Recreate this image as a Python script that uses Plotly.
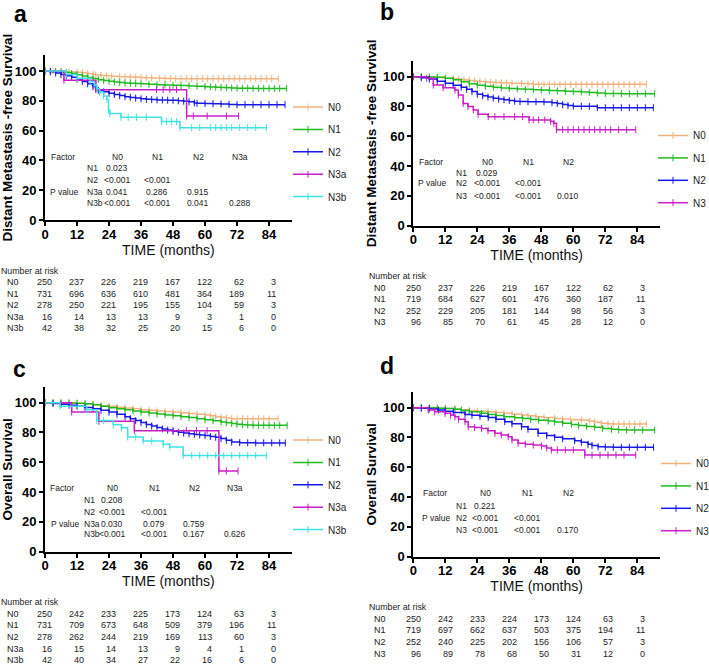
import plotly.graph_objects as go

# ---------------- data ----------------
time_ticks = [0, 12, 24, 36, 48, 60, 72, 84]
surv_ticks = [0, 20, 40, 60, 80, 100]

# Panel a - Distant metastasis-free survival (N0, N1, N2, N3a, N3b)
a_N0_t = [0, 3, 6, 9, 12, 14, 16, 18, 19, 21,
          23, 25, 28, 30, 32, 34, 36, 38, 40, 43,
          45, 47, 49, 51, 53, 55, 57, 59, 61, 63,
          65, 67, 69, 71, 73, 75, 77, 79, 81, 83,
          85, 87.5]
a_N0_s = [100, 100, 99.7, 99.4, 99.1, 98.9, 98.4, 97.8, 97.3, 97.0,
          96.8, 96.5, 96.2, 96.1, 96.0, 95.8, 95.6, 95.4, 95.3, 95.1,
          95.0, 94.9, 94.8, 94.8, 94.8, 94.8, 94.8, 94.8, 94.8, 94.8,
          94.8, 94.8, 94.8, 94.8, 94.8, 94.8, 94.8, 94.8, 94.8, 94.8,
          94.8, 94.8]
a_N1_t = [0, 2, 4, 6, 8, 10, 12, 14, 16, 18,
          20, 22, 24, 26, 28, 30, 32, 34, 36, 39,
          42, 45, 48, 51, 54, 57, 60, 62, 64, 66,
          68, 70, 72, 74, 76, 78, 80, 82, 84, 86,
          88, 90.6]
a_N1_s = [100, 99.9, 99.7, 99.4, 99.0, 98.4, 97.5, 96.6, 95.7, 94.9,
          94.2, 93.6, 93.1, 92.7, 92.3, 92.0, 91.8, 91.6, 91.4, 91.1,
          90.8, 90.6, 90.4, 90.2, 90.0, 89.8, 89.5, 89.3, 89.1, 88.9,
          88.8, 88.6, 88.5, 88.4, 88.4, 88.3, 88.3, 88.3, 88.3, 88.3,
          88.3, 88.3]
a_N2_t = [0, 2, 4, 6, 8, 10, 12, 14, 16, 18,
          19, 20, 22, 24, 26, 28, 30, 32, 34, 36,
          38, 40, 42, 44, 46, 48, 50, 52, 54, 56,
          57, 60, 63, 66, 69, 72, 75, 78, 81, 84,
          87, 90]
a_N2_s = [100, 99.5, 98.6, 97.6, 96.8, 95.8, 94.6, 93.0, 91.4, 89.5,
          88.0, 87.0, 86.0, 85.0, 84.2, 83.5, 82.8, 82.3, 81.8, 81.3,
          81.0, 80.8, 80.6, 80.5, 80.4, 80.3, 80.0, 79.7, 79.3, 78.6,
          78.3, 78.2, 78.1, 77.9, 77.6, 77.4, 77.4, 77.4, 77.4, 77.4,
          77.4, 77.4]
a_N3a_t = [0, 7.1, 19.1, 41.8, 44.3, 46.8, 49.3, 53.1, 55.6, 60.8, 68, 72.6]
a_N3a_s = [100, 93.75, 87.5, 87.5, 87.5, 87.5, 87.5, 69.8, 69.8, 69.8, 69.8, 69.8]
a_N3b_t = [0, 8, 12, 17, 18.5, 19.5, 20.5, 22, 23.2, 23.8,
           24.3, 28.5, 31.2, 34.3, 38, 43.7, 45.6, 47.4, 49.3, 50.6,
           55, 58, 62, 64, 66, 68, 70, 73, 76, 79,
           83]
a_N3b_s = [100, 97.6, 95.2, 92.9, 90.5, 88.1, 85.7, 83.3, 80.9, 73.8,
           71.4, 68.9, 68.9, 68.9, 68.9, 66.1, 66.1, 66.1, 66.1, 62.0,
           62.0, 62.0, 62.0, 62.0, 62.0, 62.0, 62.0, 62.0, 62.0, 62.0,
           62.0]

# Panel b - Distant metastasis-free survival (N0, N1, N2, N3)
b_N0_t = [0, 3, 6, 9, 12, 15, 17, 19, 21, 23,
          25, 27, 29, 31, 33, 35, 37, 40.6, 43, 45,
          47, 49, 51, 53, 55, 57, 59, 61, 63, 65,
          67, 69, 71, 73, 75, 77, 79, 81, 83, 85,
          87.4]
b_N0_s = [100, 100, 99.7, 99.4, 99.0, 98.6, 98.2, 97.8, 97.4, 97.1,
          96.8, 96.5, 96.3, 96.1, 95.9, 95.8, 95.6, 95.5, 95.2, 95.0,
          94.9, 94.9, 94.9, 94.9, 94.9, 94.9, 94.9, 94.9, 94.9, 94.9,
          94.9, 94.9, 94.9, 94.9, 94.9, 94.9, 94.9, 94.9, 94.9, 94.9,
          94.9]
b_N1_t = [0, 3, 6, 9, 12, 15, 18, 21, 24, 27,
          30, 33, 36, 39, 42, 45, 48, 51, 54, 57,
          60, 63, 66, 69, 72, 75, 78, 81, 84, 87,
          90.5]
b_N1_s = [100, 100, 99.8, 99.6, 98.9, 97.9, 96.6, 95.3, 94.3, 93.6,
          93.0, 92.5, 92.1, 91.8, 91.5, 91.2, 91.0, 90.7, 90.5, 90.2,
          90.0, 89.7, 89.4, 89.1, 88.8, 88.7, 88.6, 88.6, 88.6, 88.6,
          88.6]
b_N2_t = [0, 3, 6, 9, 12, 15, 18, 20, 22, 24,
          26, 28, 30, 32, 34, 36, 38, 40, 43, 46,
          49, 52, 54, 56, 58, 60, 63, 66, 69, 72,
          75, 78, 81, 84, 87, 90]
b_N2_s = [100, 99.3, 98.4, 96.9, 95.6, 94.2, 93.0, 91.5, 90.0, 88.2,
          87.2, 86.3, 85.6, 85.0, 84.5, 84.0, 83.6, 83.3, 83.2, 83.2,
          83.1, 82.6, 82.0, 81.3, 80.6, 80.2, 80.2, 80.1, 79.2, 79.2,
          79.2, 79.2, 79.2, 79.2, 79.2, 79.2]
b_N3_t = [0, 5, 7.5, 11.2, 15.6, 16.9, 18.7, 20.5, 22.5, 24.3,
          28.1, 30.6, 34, 38, 41, 43.4, 45, 47, 49.3, 51.5,
          52.7, 53.7, 56, 58, 60, 62, 64, 66, 68, 70,
          72, 74, 77, 80, 83.4]
b_N3_s = [100, 98.9, 94.4, 92.6, 91.1, 87.7, 82.1, 80.0, 77.7, 74.8,
          73.2, 73.2, 73.2, 73.2, 73.2, 71.0, 71.0, 71.0, 71.0, 70.0,
          68.7, 64.4, 64.4, 64.4, 64.4, 64.4, 64.4, 64.4, 64.4, 64.4,
          64.4, 64.4, 64.4, 64.4, 64.4]

# Panel c - Overall survival (N0, N1, N2, N3a, N3b)
c_N0_t = [0, 3, 6, 9, 12, 15, 18, 21, 24, 27,
          30, 33, 36, 39, 42, 45, 48, 51, 54, 57,
          60, 62, 64, 66, 68, 70, 72, 74, 76, 78,
          80, 82, 84, 87.4]
c_N0_s = [100, 100, 99.8, 99.6, 99.4, 99.3, 98.8, 98.2, 97.6, 97.0,
          96.4, 95.9, 95.3, 94.9, 94.5, 94.1, 93.7, 93.3, 92.8, 92.2,
          91.7, 91.2, 90.6, 90.2, 89.8, 89.3, 89.2, 89.2, 89.2, 89.2,
          89.2, 89.2, 89.2, 89.2]
c_N1_t = [0, 3, 6, 9, 12, 15, 18, 21, 24, 27,
          30, 33, 36, 39, 42, 45, 48, 51, 54, 57,
          60, 63, 66, 68, 70, 72, 74, 76, 78, 80,
          82, 84, 86, 88, 90.8]
c_N1_s = [100, 100, 99.9, 99.8, 99.7, 99.3, 98.6, 97.6, 96.6, 95.9,
          95.2, 94.5, 93.7, 93.1, 92.4, 91.8, 91.2, 90.6, 90.0, 89.3,
          88.6, 87.9, 87.1, 86.5, 86.0, 85.5, 85.2, 85.0, 84.9, 84.8,
          84.8, 84.8, 84.8, 84.8, 84.8]
c_N2_t = [0, 3, 6, 9, 12, 15, 18, 21, 24, 27,
          30, 32, 34, 36, 38, 40, 42, 44, 46, 48,
          50, 52, 54, 56, 58, 60, 62, 64, 66, 68,
          70, 73, 76, 79, 82, 85, 88, 90.1]
c_N2_s = [100, 99.5, 98.9, 98.3, 97.6, 96.8, 95.9, 94.9, 93.7, 92.2,
          90.6, 89.3, 88.0, 86.7, 85.4, 84.3, 83.3, 82.4, 81.6, 80.8,
          80.2, 79.6, 79.1, 78.7, 78.4, 78.0, 77.4, 76.8, 76.0, 74.8,
          73.6, 73.2, 73.1, 73.0, 73.0, 73.0, 73.0, 73.0]
c_N3a_t = [0, 10, 20.2, 33.5, 48, 53, 56.8, 60.8, 65.2, 68, 72.4]
c_N3a_s = [100, 93.75, 87.5, 81.25, 81.25, 81.25, 81.25, 81.25, 54.2, 54.2, 54.2]
c_N3b_t = [0, 5.6, 15.6, 19.4, 22, 25.6, 28.7, 31, 34, 36.8,
           40, 44.3, 46.8, 51.8, 55, 58, 61, 64, 67, 70,
           73, 76, 79, 83]
c_N3b_s = [100, 97.6, 95.2, 88.1, 88.1, 85.2, 83.2, 77.0, 77.0, 74.3,
           74.3, 72.1, 70.3, 64.5, 64.5, 64.5, 64.5, 64.5, 64.5, 64.5,
           64.5, 64.5, 64.5, 64.5]

# Panel d - Overall survival (N0, N1, N2, N3)
d_N0_t = [0, 3, 6, 9, 12, 15.6, 18, 21, 24, 28,
          31, 34, 37, 40.6, 43, 46, 49, 53, 56, 59,
          63, 66, 68, 70.5, 73, 75, 77, 79, 81, 83,
          85, 87.4]
d_N0_s = [100, 100, 99.8, 99.6, 99.4, 99.1, 98.7, 98.2, 97.7, 97.3,
          96.8, 96.2, 95.6, 95.1, 94.6, 94.0, 93.4, 92.8, 92.4, 92.0,
          91.7, 91.0, 90.3, 89.5, 89.2, 89.0, 89.0, 89.0, 89.0, 89.0,
          89.0, 89.0]
d_N1_t = [0, 3, 6, 9, 12, 15.6, 18, 21, 25.6, 28,
          31, 34, 38, 41, 44, 47, 50.6, 53, 56, 59.3,
          62, 65, 68, 71, 74.3, 77, 80, 83, 86, 90.5]
d_N1_s = [100, 100, 99.9, 99.7, 99.4, 98.9, 98.2, 97.3, 96.2, 95.5,
          94.7, 94.0, 93.3, 92.7, 92.1, 91.6, 91.1, 90.4, 89.6, 88.8,
          88.1, 87.4, 86.8, 86.1, 85.5, 85.2, 85.0, 85.0, 85.0, 85.0]
d_N2_t = [0, 3, 6, 9.4, 12, 15, 19.4, 22, 25, 28.1,
          31, 34.3, 37, 40.6, 43, 46.8, 50, 53, 56, 60.5,
          63, 65.5, 67, 69.3, 72, 75, 78, 81, 84, 87,
          90.1]
d_N2_s = [100, 99.7, 99.2, 98.4, 97.7, 96.8, 95.5, 94.9, 94.2, 93.5,
          92.2, 90.6, 89.2, 87.3, 85.6, 82.8, 81.3, 80.1, 79.1, 77.9,
          76.8, 75.4, 74.6, 73.8, 73.6, 73.5, 73.4, 73.4, 73.4, 73.4,
          73.4]
d_N3_t = [0, 5.6, 8, 11.9, 14, 15.6, 17, 19.4, 20.6, 23,
          25.6, 28, 30.6, 33, 35.6, 37, 39.3, 42, 45, 48.1,
          50, 51.8, 54, 57, 60, 64.3, 67, 70, 73, 76,
          79, 83.4]
d_N3_s = [100, 98.4, 97.3, 96.2, 95.0, 93.9, 92.3, 90.6, 87.3, 86.7,
          86.1, 84.5, 82.8, 81.7, 80.5, 78.3, 76.1, 75.5, 74.9, 74.3,
          73.0, 71.6, 71.6, 71.6, 71.6, 68.2, 68.2, 68.2, 68.2, 68.2,
          68.2, 68.2]

# Number at risk
risk_a_N0 = [250, 237, 226, 219, 167, 122, 62, 3]
risk_a_N1 = [731, 696, 636, 610, 481, 364, 189, 11]
risk_a_N2 = [278, 250, 221, 195, 155, 104, 59, 3]
risk_a_N3a = [16, 14, 13, 13, 9, 3, 1, 0]
risk_a_N3b = [42, 38, 32, 25, 20, 15, 6, 0]
risk_b_N0 = [250, 237, 226, 219, 167, 122, 62, 3]
risk_b_N1 = [719, 684, 627, 601, 476, 360, 187, 11]
risk_b_N2 = [252, 229, 205, 181, 144, 98, 56, 3]
risk_b_N3 = [96, 85, 70, 61, 45, 28, 12, 0]
risk_c_N0 = [250, 242, 233, 225, 173, 124, 63, 3]
risk_c_N1 = [731, 709, 673, 648, 509, 379, 196, 11]
risk_c_N2 = [278, 262, 244, 219, 169, 113, 60, 3]
risk_c_N3a = [16, 15, 14, 13, 9, 4, 1, 0]
risk_c_N3b = [42, 40, 34, 27, 22, 16, 6, 0]
risk_d_N0 = [250, 242, 233, 224, 173, 124, 63, 3]
risk_d_N1 = [719, 697, 662, 637, 503, 375, 194, 11]
risk_d_N2 = [252, 240, 225, 202, 156, 106, 57, 3]
risk_d_N3 = [96, 89, 78, 68, 50, 31, 12, 0]

# Pairwise P values
p_a_header = ['N0', 'N1', 'N2', 'N3a']
p_a_rows = ['N1', 'N2', 'N3a', 'N3b']
p_a_vals = [['0.023'], ['<0.001', '<0.001'], ['0.041', '0.286', '0.915'],
            ['<0.001', '<0.001', '0.041', '0.288']]
p_b_header = ['N0', 'N1', 'N2']
p_b_rows = ['N1', 'N2', 'N3']
p_b_vals = [['0.029'], ['<0.001', '<0.001'], ['<0.001', '<0.001', '0.010']]
p_c_header = ['N0', 'N1', 'N2', 'N3a']
p_c_rows = ['N1', 'N2', 'N3a', 'N3b']
p_c_vals = [['0.208'], ['<0.001', '<0.001'], ['0.030', '0.079', '0.759'],
            ['<0.001', '<0.001', '0.167', '0.626']]
p_d_header = ['N0', 'N1', 'N2']
p_d_rows = ['N1', 'N2', 'N3']
p_d_vals = [['0.221'], ['<0.001', '<0.001'], ['<0.001', '<0.001', '0.170']]

# ---------------- styling / layout ----------------
COLORS = {'N0': '#F3B27E', 'N1': '#1FBA1F', 'N2': '#1717E6',
          'N3a': '#C81EC8', 'N3': '#C81EC8', 'N3b': '#40E2E2'}
FONT = 'Liberation Sans, Arial, sans-serif'
W, H = 709, 664
XPX, YPX = 2.667, 1.49      # px per month, px per % (reference scale)
XMAX, YMAX = 92.5, 110.5

panels = [
    dict(key='a', n='', origin=(45.0, 220.0), ytitle='Distant Metastasis -free Survival',
         curves=[('N0', a_N0_t, a_N0_s), ('N1', a_N1_t, a_N1_s), ('N2', a_N2_t, a_N2_s),
                 ('N3a', a_N3a_t, a_N3a_s), ('N3b', a_N3b_t, a_N3b_s)],
         risk=[('N0', risk_a_N0), ('N1', risk_a_N1), ('N2', risk_a_N2),
               ('N3a', risk_a_N3a), ('N3b', risk_a_N3b)],
         ph=p_a_header, pr=p_a_rows, pv=p_a_vals,
         letter=(20, 13.5), legend=(288, 92.5), risk_x=0, risk_lab_x=4.5,
         fx=4, pvx=4, pvrow=2, rlx=41, cols=[72, 112, 153, 195],
         ydy=[63.3, 51.5, 39.7, 28.0, 17.0]),
    dict(key='b', n='2', origin=(413.3, 225.7), ytitle='Distant Metastasis -free Survival',
         curves=[('N0', b_N0_t, b_N0_s), ('N1', b_N1_t, b_N1_s), ('N2', b_N2_t, b_N2_s),
                 ('N3', b_N3_t, b_N3_s)],
         risk=[('N0', risk_b_N0), ('N1', risk_b_N1), ('N2', risk_b_N2), ('N3', risk_b_N3)],
         ph=p_b_header, pr=p_b_rows, pv=p_b_vals,
         letter=(387, 12), legend=(653, 121), risk_x=368.3, risk_lab_x=371.7,
         fx=3.4, pvx=3.4, pvrow=1, rlx=41.7, cols=[74, 115, 155],
         ydy=[64.0, 53.0, 42.4, 30.0]),
    dict(key='c', n='3', origin=(45.0, 551.7), ytitle='Overall Survival',
         curves=[('N0', c_N0_t, c_N0_s), ('N1', c_N1_t, c_N1_s), ('N2', c_N2_t, c_N2_s),
                 ('N3a', c_N3a_t, c_N3a_s), ('N3b', c_N3b_t, c_N3b_s)],
         risk=[('N0', risk_c_N0), ('N1', risk_c_N1), ('N2', risk_c_N2),
               ('N3a', risk_c_N3a), ('N3b', risk_c_N3b)],
         ph=p_c_header, pr=p_c_rows, pv=p_c_vals,
         letter=(19.5, 369), legend=(288, 425.5), risk_x=0, risk_lab_x=4.5,
         fx=3.3, pvx=4.5, pvrow=2, rlx=37.5, cols=[67, 109, 149, 190],
         ydy=[63.4, 51.7, 39.4, 27.7, 17.4]),
    dict(key='d', n='4', origin=(413.3, 556.7), ytitle='Overall Survival',
         curves=[('N0', d_N0_t, d_N0_s), ('N1', d_N1_t, d_N1_s), ('N2', d_N2_t, d_N2_s),
                 ('N3', d_N3_t, d_N3_s)],
         risk=[('N0', risk_d_N0), ('N1', risk_d_N1), ('N2', risk_d_N2), ('N3', risk_d_N3)],
         ph=p_d_header, pr=p_d_rows, pv=p_d_vals,
         letter=(386.5, 366), legend=(656, 449), risk_x=368.3, risk_lab_x=371.7,
         fx=7.4, pvx=7.4, pvrow=1, rlx=41.7, cols=[72, 114, 155],
         ydy=[63.4, 51.0, 38.4, 26.7]),
]

RISK_DY = [62.0, 73.6, 85.2, 96.8, 108.4]


def esc(s):
    return s.replace('<', '&lt;')


fig = go.Figure()
layout = dict(width=W, height=H, margin=dict(l=0, r=0, t=0, b=0, autoexpand=False),
              paper_bgcolor='white', plot_bgcolor='white',
              font=dict(family=FONT, color='black'), annotations=[])

for p in panels:
    n = p['n']
    x0, y0 = p['origin']
    lg = 'legend' + n
    for name, t, s in p['curves']:
        col = COLORS[name]
        fig.add_trace(go.Scatter(
            x=t, y=s, mode='lines+markers', name=name,
            line=dict(shape='hv', width=1.5, color=col),
            marker=dict(symbol='line-ns-open', size=5, color=col, line=dict(width=1, color=col)),
            xaxis='x' + n, yaxis='y' + n, legend=lg, legendgroup=p['key'] + name,
            showlegend=True))

    axis_common = dict(showline=True, linewidth=2, linecolor='black', ticks='outside',
                       ticklen=4, tickwidth=2, tickcolor='black', showgrid=False,
                       zeroline=False, tickfont=dict(size=13, weight='bold', color='black'))
    layout['xaxis' + n] = dict(domain=[x0 / W, (x0 + XMAX * XPX) / W], range=[0, XMAX],
                               anchor='y' + n, tickvals=time_ticks, ticklabelstandoff=-3,
                               title=dict(text='TIME (months)', font=dict(size=14, color='#111'),
                                          standoff=3),
                               **axis_common)
    layout['yaxis' + n] = dict(domain=[1 - y0 / H, 1 - (y0 - YMAX * YPX) / H], range=[0, YMAX],
                               anchor='x' + n, tickvals=surv_ticks,
                               title=dict(text=p['ytitle'],
                                          font=dict(size=13.5, weight='bold', color='black'),
                                          standoff=3),
                               **axis_common)
    lx, ly = p['legend']
    layout[lg] = dict(x=lx / W, y=1 - ly / H, xanchor='left', yanchor='top',
                      bgcolor='rgba(0,0,0,0)', font=dict(size=10, color='#222'),
                      tracegroupgap=3.4, itemwidth=30, traceorder='grouped')

    ann = layout['annotations']
    # panel letter
    ann.append(dict(text=p['key'], x=p['letter'][0] / W, y=1 - p['letter'][1] / H,
                    xref='paper', yref='paper', showarrow=False, xanchor='center',
                    yanchor='middle', font=dict(size=23, weight='bold', color='black')))
    # P-value table
    tf = dict(size=8.5, color='#222')
    ydy = p['ydy']
    ann.append(dict(text='Factor', x=(x0 + p['fx']) / W, y=1 - (y0 - ydy[0]) / H,
                    xref='paper', yref='paper', showarrow=False, xanchor='left',
                    yanchor='middle', font=tf))
    for j, h in enumerate(p['ph']):
        ann.append(dict(text=h, x=(x0 + p['cols'][j]) / W, y=1 - (y0 - ydy[0]) / H,
                        xref='paper', yref='paper', showarrow=False, xanchor='center',
                        yanchor='middle', font=tf))
    for i, (rl, vals) in enumerate(zip(p['pr'], p['pv'])):
        yy = 1 - (y0 - ydy[i + 1]) / H
        if i == p['pvrow']:
            ann.append(dict(text='P value', x=(x0 + p['pvx']) / W, y=yy, xref='paper',
                            yref='paper', showarrow=False, xanchor='left', yanchor='middle',
                            font=tf, borderpad=0))
        ann.append(dict(text=rl, x=(x0 + p['rlx']) / W, y=yy, xref='paper', yref='paper',
                        showarrow=False, xanchor='left', yanchor='middle', font=tf,
                        borderpad=0))
        for j, v in enumerate(vals):
            ann.append(dict(text=esc(v), x=(x0 + p['cols'][j]) / W, y=yy, xref='paper',
                            yref='paper', showarrow=False, xanchor='center',
                            yanchor='middle', font=tf))
    # Number at risk table
    rf = dict(size=9, color='#222')
    ann.append(dict(text='Number at risk', x=p['risk_x'] / W, y=1 - (y0 + 50.5) / H,
                    xref='paper', yref='paper', showarrow=False, xanchor='left',
                    yanchor='middle', font=dict(size=8.8, color='#222'), borderpad=0))
    for i, (rl, vals) in enumerate(p['risk']):
        yy = 1 - (y0 + RISK_DY[i]) / H
        ann.append(dict(text=rl, x=p['risk_lab_x'] / W, y=yy, xref='paper', yref='paper',
                        showarrow=False, xanchor='left', yanchor='middle', font=rf))
        for tk, v in zip(time_ticks, vals):
            ann.append(dict(text=str(v), x=tk + 3.5, y=yy, xref='x' + n, yref='paper',
                            showarrow=False, xanchor='right', yanchor='middle', font=rf))

fig.update_layout(**layout)
fig.write_html('out.html', config={'displayModeBar': False},
               post_script="document.body.style.margin='0px';document.body.style.overflow='hidden';")
